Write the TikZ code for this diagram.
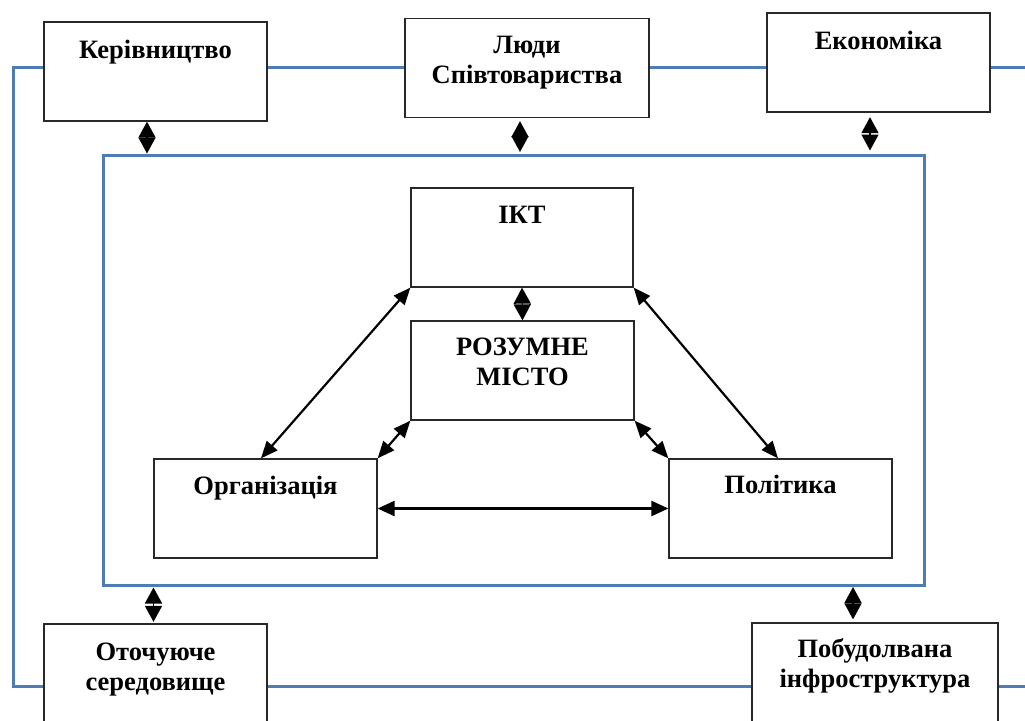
\documentclass[tikz,border=0pt]{standalone}
\usepackage{fontspec}
\setmainfont{Liberation Serif}
\usetikzlibrary{arrows.meta}
\definecolor{frameblue}{RGB}{79,124,178}
\definecolor{boxline}{RGB}{40,40,40}
\newcommand\twolines[2]{\parbox[t]{300pt}{\centering #1\\#2}}
\begin{document}
\begin{tikzpicture}[x=1pt,y=-1pt,
  box/.style={draw=boxline, line width=1.3pt, fill=white, rectangle, inner sep=0pt,
    minimum width=#1, minimum height=99pt},
  box/.default=223pt,
  txt/.style={anchor=base, inner sep=0pt, font=\fontsize{26.5}{30}\selectfont\bfseries},
  blueline/.style={draw=frameblue, line width=3pt},
  vdbl/.style={<->, >={Triangle[length=16pt,width=17pt]}, line width=1.5pt},
  diag/.style={<->, >={Triangle[length=17pt,width=14pt]}, line width=2.2pt},
  hdbl/.style={<->, >={Triangle[length=17pt,width=15pt]}, line width=2.6pt}
]
\useasboundingbox (0,0) rectangle (1025,720);
\clip (0,0) rectangle (1025,720);

% outer blue loop
\coordinate (lt) at (1035,67);
\coordinate (ct) at (13,67);
\coordinate (cb) at (13,686);
\coordinate (lb) at (1035,686);
\draw[blueline, line join=miter] (lt) -- (ct) -- (cb) -- (lb);

% inner blue frame
\node[draw=frameblue, line width=3pt, rectangle, inner sep=0pt,
  minimum width=821pt, minimum height=430pt] (inner) at (513.5,370) {};

% outer boxes
\node[box] (k) at (155.5,71.5) {};
\node[box=244pt] (l) at (527,68) {};
\node[box] (e) at (878.5,62.5) {};
\node[box] (env) at (155.5,673.5) {};
\node[box=246pt] (infra) at (875,672.5) {};

% inner boxes
\node[box=222pt] (ikt) at (522,237.5) {};
\node[box] (smart) at (522.5,370.5) {};
\node[box] (org) at (265.5,508.5) {};
\node[box] (pol) at (780.5,508.5) {};

% texts
\node[txt] (kt) at ([yshift=-37pt]k.north) {Керівництво};
\node[txt] (lt2) at ([yshift=-36pt]l.north) {\twolines{Люди}{Співтовариства}};
\node[txt] (et) at ([yshift=-37pt]e.north) {Економіка};
\node[txt] (envt) at ([yshift=-37pt]env.north) {\twolines{Оточуюче}{середовище}};
\node[txt] (infrat) at ([yshift=-35pt]infra.north) {\twolines{Побудолвана}{інфроструктура}};
\node[txt] (iktt) at ([yshift=-36pt]ikt.north) {ІКТ};
\node[txt] (smartt) at ([yshift=-35pt]smart.north) {\twolines{РОЗУМНЕ}{МІСТО}};
\node[txt] (orgt) at ([yshift=-36pt]org.north) {Організація};
\node[txt] (polt) at ([yshift=-35pt]pol.north) {Політика};

% vertical double arrows to the inner frame
\coordinate (ak) at ([xshift=-8.5pt]k.south);
\coordinate (al) at ([xshift=-7pt]l.south);
\coordinate (ae) at ([xshift=-8.5pt]e.south);
\coordinate (aenv) at ([xshift=-2pt]env.north);
\coordinate (ainf) at ([xshift=-22pt]infra.north);
\draw[vdbl] (ak) -- (ak |- inner.north);
\draw[vdbl, shorten <=3pt, shorten >=1.5pt] (al) -- (al |- inner.north);
\draw[vdbl, shorten <=4.5pt, shorten >=3pt] (ae) -- (ae |- inner.north);
\draw[vdbl, shorten <=1pt, shorten >=1.5pt] (aenv |- inner.south) -- (aenv);
\draw[vdbl, shorten <=0.5pt, shorten >=3pt] (ainf |- inner.south) -- (ainf);

% inner connectors
\draw[vdbl] (ikt.south) -- (smart.north);
\draw[diag] (ikt.south west) -- ([xshift=-4.5pt]org.north);
\draw[diag] (ikt.south east) -- ([xshift=-2.5pt]pol.north);
\draw[diag] (smart.south west) -- (org.north east);
\draw[diag] (smart.south east) -- (pol.north west);
\draw[hdbl] (org.east) -- (pol.west);
\end{tikzpicture}
\end{document}
